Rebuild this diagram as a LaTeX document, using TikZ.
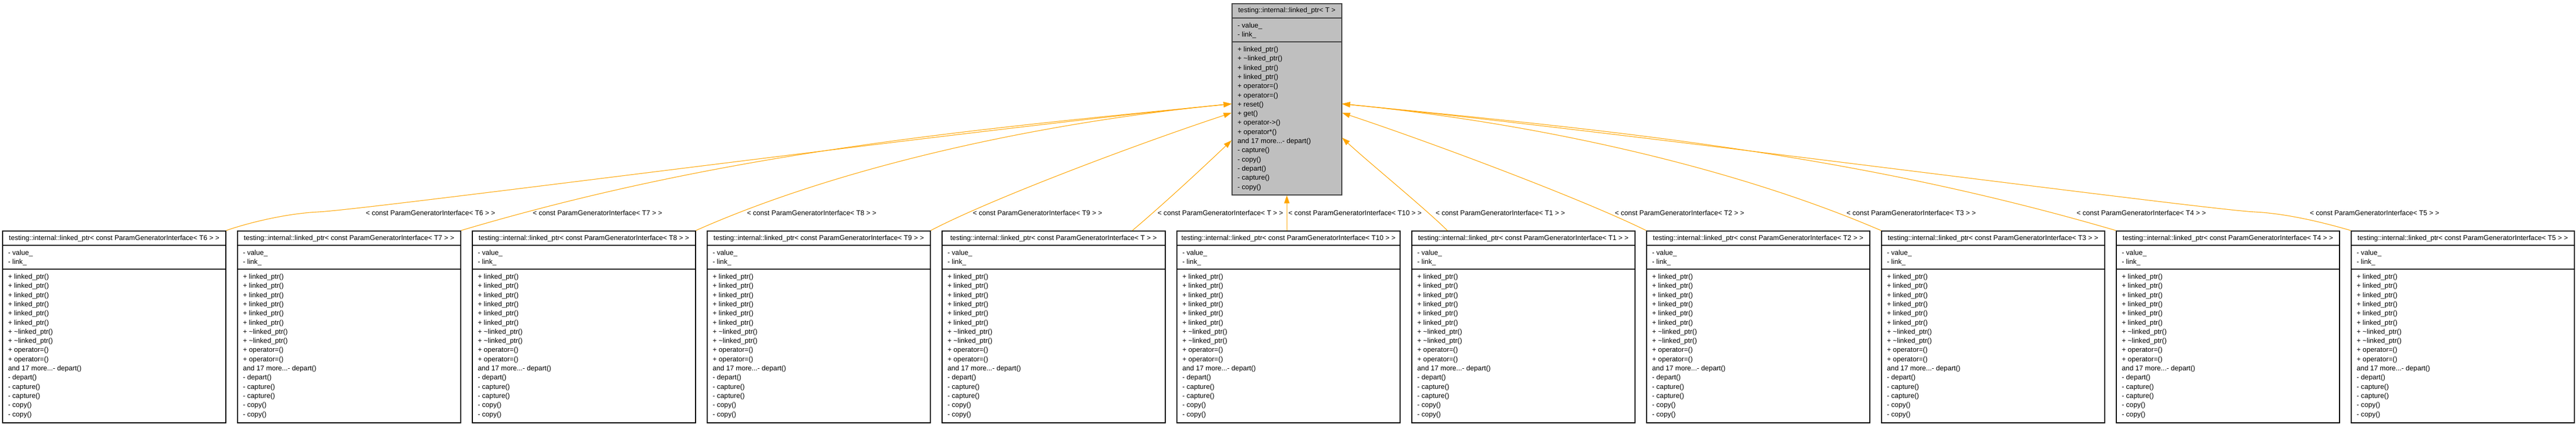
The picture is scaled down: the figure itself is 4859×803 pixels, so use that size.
\documentclass[tikz,border=0pt]{standalone}
\usepackage{fontspec}
\setmainfont{Liberation Sans}
\usetikzlibrary{arrows.meta,calc}
\definecolor{edgeor}{HTML}{FFA500}
\definecolor{topfill}{HTML}{BFBFBF}
\definecolor{topline}{HTML}{404040}
\newcommand\dfontsel{\fontsize{6.55pt}{8.65pt}\selectfont}
\newcommand\attrlist{\begin{tabular}[t]{@{}l@{}}- value\_\\- link\_\end{tabular}}
\newcommand\toplist{\begin{tabular}[t]{@{}l@{}}+ linked\_ptr()\\+ \textasciitilde linked\_ptr()\\+ linked\_ptr()\\+ linked\_ptr()\\+ operator=()\\+ operator=()\\+ reset()\\+ get()\\+ operator->()\\+ operator*()\\and 17 more...- depart()\\- capture()\\- copy()\\- depart()\\- capture()\\- copy()\end{tabular}}
\newcommand\sublist{\begin{tabular}[t]{@{}l@{}}+ linked\_ptr()\\+ linked\_ptr()\\+ linked\_ptr()\\+ linked\_ptr()\\+ linked\_ptr()\\+ linked\_ptr()\\+ \textasciitilde linked\_ptr()\\+ \textasciitilde linked\_ptr()\\+ operator=()\\+ operator=()\\and 17 more...- depart()\\- depart()\\- capture()\\- capture()\\- copy()\\- copy()\end{tabular}}
\begin{document}
\begin{tikzpicture}[x=0.5pt,y=-0.5pt,
  dfont/.style={font=\dfontsel},
  classbox/.style={draw=black, line width=0.8pt, fill=white, anchor=north west, inner sep=0pt, minimum width=210.5pt, minimum height=181pt},
  basebox/.style={classbox, draw=topline, fill=topfill, minimum width=103.5pt, minimum height=180.5pt},
  ttl/.style={dfont, anchor=base, inner sep=0pt},
  lst/.style={dfont, anchor=base west, inner sep=0pt},
  sepline/.style={line width=0.8pt},
  inh/.style={draw=edgeor, line width=0.55pt, -{Triangle[length=7.5pt,width=5pt]}},
  elabel/.style={dfont, anchor=base, inner sep=0pt}
]
\useasboundingbox (0,0) rectangle (4859,803);
% base class
\node[basebox] (top) at (2323,6) {};
\draw[sepline, draw=topline] ($(top.north west)+(0,28)$) -- ($(top.north east)+(0,28)$);
\draw[sepline, draw=topline] ($(top.north west)+(0,73)$) -- ($(top.north east)+(0,73)$);
\node[ttl] (topt) at ($(top.north)+(0,18)$) {testing::internal::linked\_ptr< T >};
\node[lst] (topa) at ($(top.north west)+(11,46.5)$) {\attrlist};
\node[lst] (topm) at ($(top.north west)+(11,91.5)$) {\toplist};
% derived instances
\foreach \i/\t in {1/T6,2/T7,3/T8,4/T9,5/T,6/T10,7/T1,8/T2,9/T3,10/T4,11/T5}{
  \node[classbox] (b\i) at ({4+(\i-1)*443},435) {};
  \draw[sepline] ($(b\i.north west)+(0,28)$) -- ($(b\i.north east)+(0,28)$);
  \draw[sepline] ($(b\i.north west)+(0,73)$) -- ($(b\i.north east)+(0,73)$);
  \node[ttl] (b\i t) at ($(b\i.north)+(0,18)$) {testing::internal::linked\_ptr< const ParamGeneratorInterface< \t\ > >};
  \node[lst] (b\i a) at ($(b\i.north west)+(11,46.5)$) {\attrlist};
  \node[lst] (b\i m) at ($(b\i.north west)+(11,91.5)$) {\sublist};
}
% arrow targets and edge start points
\coordinate (tL1) at ($(top.north west)+(0,190)$);
\coordinate (tL2) at ($(top.north west)+(0,207)$);
\coordinate (tL3) at ($(top.north west)+(0,259)$);
\coordinate (tR1) at ($(top.north east)+(0,190)$);
\coordinate (tR2) at ($(top.north east)+(0,207)$);
\coordinate (tR3) at ($(top.north east)+(0,254)$);
\coordinate (s5) at ($(b5.north west)+(360,0)$);
\coordinate (s7) at ($(b7.north west)+(68,0)$);
% edges
\draw[inh] (b1.north east) .. controls (470,420) and (540,403) .. (600,400) .. controls (700,395) and (1820,246) .. (tL1);
\draw[inh] (b2.north east) .. controls (1368,287) and (1820,246) .. (tL1);
\draw[inh] (b3.north east) .. controls (1560,325) and (1920,236) .. (tL1);
\draw[inh] (b4.north east) .. controls (1870,375) and (2150,270) .. (tL2);
\draw[inh] (s5) .. controls (2196,384) and (2263,322) .. (tL3);
\draw[inh] (top.south |- b6.north) -- (top.south);
\draw[inh] (s7) .. controls (2690,395) and (2580,305) .. (tR3);
\draw[inh] (b8.north west) .. controls (2983,375) and (2703,270) .. (tR2);
\draw[inh] (b9.north west) .. controls (3293,325) and (2933,236) .. (tR1);
\draw[inh] (b10.north west) .. controls (3485,287) and (3033,246) .. (tR1);
\draw[inh] (b11.north west) .. controls (4383,420) and (4313,403) .. (4253,400) .. controls (4153,395) and (3033,246) .. (tR1);
% edge labels
\node[elabel] (l1) at (812,406.5) {< const ParamGeneratorInterface< T6 > >};
\node[elabel] (l2) at (1127,406.5) {< const ParamGeneratorInterface< T7 > >};
\node[elabel] (l3) at (1531,406.5) {< const ParamGeneratorInterface< T8 > >};
\node[elabel] (l4) at (1957,406.5) {< const ParamGeneratorInterface< T9 > >};
\node[elabel] (l5) at (2302,406.5) {< const ParamGeneratorInterface< T > >};
\node[elabel] (l6) at (2556,406.5) {< const ParamGeneratorInterface< T10 > >};
\node[elabel] (l7) at (2830,406.5) {< const ParamGeneratorInterface< T1 > >};
\node[elabel] (l8) at (3168,406.5) {< const ParamGeneratorInterface< T2 > >};
\node[elabel] (l9) at (3605,406.5) {< const ParamGeneratorInterface< T3 > >};
\node[elabel] (l10) at (4039,406.5) {< const ParamGeneratorInterface< T4 > >};
\node[elabel] (l11) at (4479,406.5) {< const ParamGeneratorInterface< T5 > >};
\end{tikzpicture}
\end{document}
